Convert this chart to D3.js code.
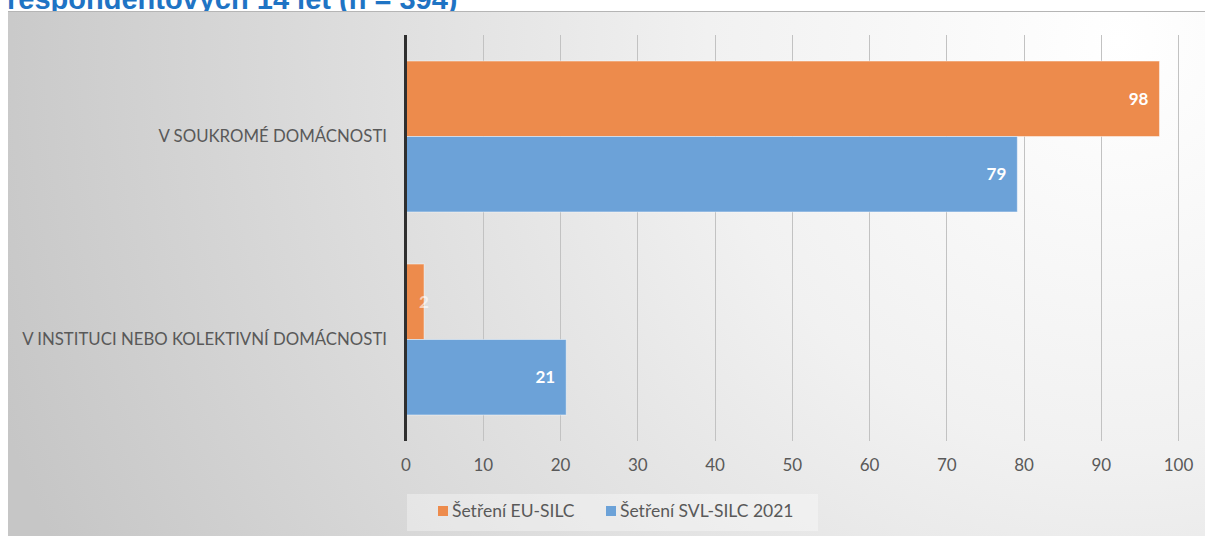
<!DOCTYPE html>
<html>
<head>
<meta charset="utf-8">
<script src="https://cdn.jsdelivr.net/npm/d3@7/dist/d3.min.js"></script>
<style>
  html, body { margin: 0; padding: 0; background: #ffffff; }
  svg { display: block; }
</style>
</head>
<body>
<svg id="chart" width="1205" height="536"></svg>
<script>
// ---- data ----
const titleText = "respondentových 14 let (n = 394)";
const categories = ["V SOUKROMÉ DOMÁCNOSTI", "V INSTITUCI NEBO KOLEKTIVNÍ DOMÁCNOSTI"];
const seriesNames = ["Šetření EU-SILC", "Šetření SVL-SILC 2021"];
const seriesEU = [97.6, 2.4];
const seriesSVL = [79.2, 20.8];
const tickValues = [0, 10, 20, 30, 40, 50, 60, 70, 80, 90, 100];
const seriesColors = ["#ED8B4C", "#6CA2D8"];

const W = 1205, H = 536;
const svg = d3.select("#chart");

// background gradient
const defs = svg.append("defs");
const grad = defs.append("radialGradient")
  .attr("id", "bg").attr("gradientUnits", "userSpaceOnUse")
  .attr("cx", 1120).attr("cy", 40).attr("r", 1180);
grad.append("stop").attr("offset", "0").attr("stop-color", "#ffffff");
grad.append("stop").attr("offset", "0.35").attr("stop-color", "#f1f1f1");
grad.append("stop").attr("offset", "1").attr("stop-color", "#c6c6c6");

// cut-off title (drawn first, panel covers its lower part)
svg.append("text").attr("x", 7).attr("y", 9)
  .attr("font-family", "Liberation Sans, Arial, sans-serif")
  .attr("font-weight", "bold").attr("font-size", 29)
  .attr("fill", "#1F74C4").text(titleText);

svg.append("rect").attr("x", 8).attr("y", 11).attr("width", W - 8).attr("height", H - 11)
  .attr("fill", "url(#bg)");
svg.append("line").attr("x1", 8).attr("x2", W).attr("y1", 11.5).attr("y2", 11.5)
  .attr("stroke", "#b5b5b5").attr("stroke-width", 1);

// scales
const x = d3.scaleLinear().domain([0, 100]).range([405.5, 1178]);
const y0 = d3.scaleBand().domain(categories).range([35, 441]).padding(0);
const y1 = d3.scaleBand().domain(seriesNames).range([0, y0.bandwidth()]).paddingInner(0).paddingOuter(0.345);

const font = "Lato, 'Open Sans', sans-serif";

// gridlines
svg.append("g").selectAll("line").data(tickValues.slice(1)).join("line")
  .attr("x1", d => Math.round(x(d)) + 0.5).attr("x2", d => Math.round(x(d)) + 0.5)
  .attr("y1", 35).attr("y2", 441)
  .attr("stroke", "#c2c2c2").attr("stroke-width", 1);

// x axis labels
const xAxis = d3.axisBottom(x).tickValues(tickValues).tickSize(0).tickPadding(0).tickFormat(d3.format("d"));
const gx = svg.append("g").attr("transform", "translate(0,459)").call(xAxis);
gx.select(".domain").remove();
gx.selectAll("text").attr("font-family", font).attr("font-size", 17).attr("fill", "#595959");

// bars
const data = categories.map((c, i) => ({ cat: c, vals: [seriesEU[i], seriesSVL[i]] }));
const groups = svg.append("g").selectAll("g").data(data).join("g")
  .attr("transform", d => `translate(0,${y0(d.cat)})`);

groups.selectAll("rect").data(d => d.vals.map((v, j) => ({ v, s: seriesNames[j], j })))
  .join("rect")
  .attr("x", x(0)).attr("y", d => y1(d.s))
  .attr("width", d => x(d.v) - x(0)).attr("height", y1.bandwidth())
  .attr("fill", d => seriesColors[d.j])
  .attr("stroke", "rgba(255,255,255,0.45)").attr("stroke-width", 1);

groups.selectAll("text").data(d => d.vals.map((v, j) => ({ v, s: seriesNames[j], j })))
  .join("text")
  .attr("x", d => (x(d.v) - x(0) < 30) ? x(d.v) : x(d.v) - 11)
  .attr("y", d => y1(d.s) + y1.bandwidth() / 2)
  .attr("dy", "0.35em")
  .attr("text-anchor", d => (x(d.v) - x(0) < 30) ? "middle" : "end")
  .attr("font-family", font).attr("font-weight", "bold").attr("font-size", 17)
  .attr("fill", d => (x(d.v) - x(0) < 30) ? "rgba(255,255,255,0.6)" : "#ffffff")
  .text(d => Math.round(d.v));

// category axis line
svg.append("line").attr("x1", x(0)).attr("x2", x(0)).attr("y1", 35).attr("y2", 441)
  .attr("stroke", "#2f2f2f").attr("stroke-width", 3);

// category labels
svg.append("g").selectAll("text").data(categories).join("text")
  .attr("x", 387).attr("y", d => y0(d) + y0.bandwidth() / 2)
  .attr("dy", "0.35em").attr("text-anchor", "end")
  .attr("font-family", font).attr("font-size", 16.8).attr("fill", "#595959")
  .text(d => d);

// legend
const lg = svg.append("g");
lg.append("rect").attr("x", 407).attr("y", 494).attr("width", 411).attr("height", 37)
  .attr("fill", "rgba(255,255,255,0.35)");
const legendX = [438, 606];
seriesNames.forEach((s, i) => {
  lg.append("rect").attr("x", legendX[i]).attr("y", 506).attr("width", 10).attr("height", 10)
    .attr("fill", seriesColors[i]);
  lg.append("text").attr("x", legendX[i] + 14).attr("y", 511).attr("dy", "0.35em")
    .attr("font-family", font).attr("font-size", 17.5).attr("fill", "#595959").text(s);
});
</script>
</body>
</html>
